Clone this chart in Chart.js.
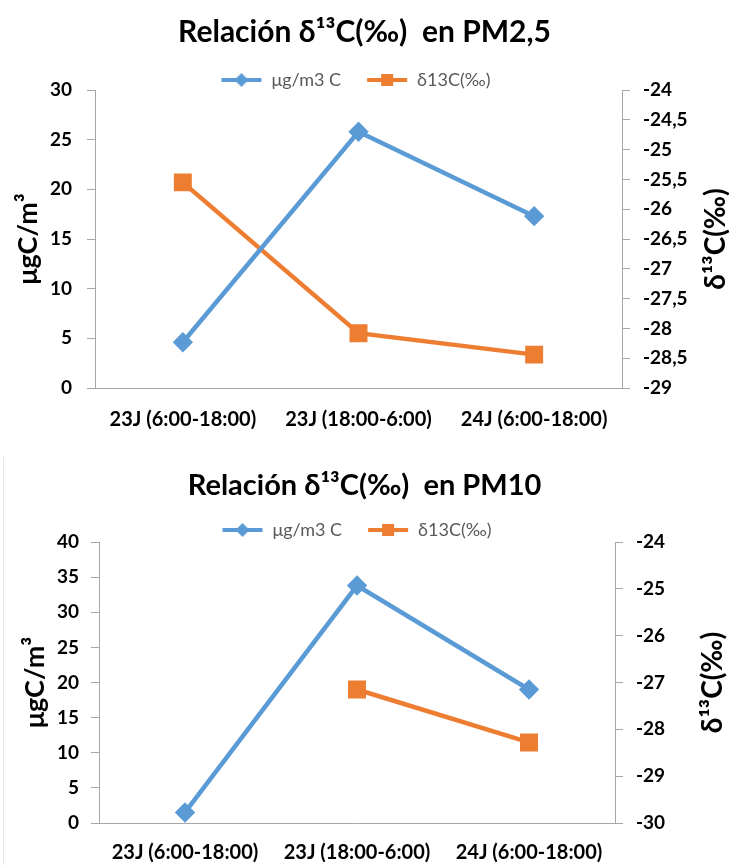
<!DOCTYPE html>
<html>
<head>
<meta charset="utf-8">
<script src="https://cdn.jsdelivr.net/npm/chart.js@4/dist/chart.umd.min.js"></script>
<style>
  html, body { margin: 0; padding: 0; background: #fff; }
  #wrap { position: relative; width: 729px; height: 865px; overflow: hidden; }
  #c1 { position: absolute; left: 0; top: 0; }
  #box2 { position: absolute; left: 3px; top: 457px; width: 726px; height: 408px; border-left: 1px solid #e6e6e6; }
  #c2 { position: absolute; left: -4px; top: -1px; }
</style>
</head>
<body>
<div id="wrap">
  <canvas id="c1" width="729" height="445"></canvas>
  <div id="box2"><canvas id="c2" width="729" height="409"></canvas></div>
</div>
<script>
// ---- data ----
const categories = ['23J (6:00-18:00)', '23J (18:00-6:00)', '24J (6:00-18:00)'];
const seriesNames = ['μg/m3 C', 'δ13C(‰)'];
const pm25Conc = [4.6, 25.8, 17.3];
const pm25Delta = [-25.55, -28.08, -28.44];
const pm10Conc = [1.5, 33.8, 19.0];
const pm10Delta = [null, -27.15, -28.28];
const pm25LeftTicks = [0, 5, 10, 15, 20, 25, 30];
const pm25RightTicks = [-29, -28.5, -28, -27.5, -27, -26.5, -26, -25.5, -25, -24.5, -24];
const pm10LeftTicks = [0, 5, 10, 15, 20, 25, 30, 35, 40];
const pm10RightTicks = [-30, -29, -28, -27, -26, -25, -24];
const titles = ['Relación δ¹³C(‰)  en PM2,5', 'Relación δ¹³C(‰)  en PM10'];
const leftTitle = 'μgC/m³';
const rightTitle = 'δ¹³C(‰)';

// ---- style ----
const FONT = "Lato, 'Open Sans', sans-serif";
const BLUE = '#5B9BD5';
const ORANGE = '#ED7D31';
const AXIS = '#a6a6a6';
Chart.defaults.font.family = FONT;
Chart.defaults.color = '#000';

function legendIcon(color, shape) {
  const c = document.createElement('canvas');
  c.width = 42; c.height = 14;
  const g = c.getContext('2d');
  g.strokeStyle = color; g.fillStyle = color; g.lineWidth = 4;
  g.beginPath(); g.moveTo(1, 7); g.lineTo(41, 7); g.stroke();
  if (shape === 'diamond') {
    g.beginPath(); g.moveTo(21, 0); g.lineTo(28, 7); g.lineTo(21, 14); g.lineTo(14, 7); g.closePath(); g.fill();
  } else {
    g.fillRect(15, 1, 12, 12);
  }
  return c;
}
const icons = [legendIcon(BLUE, 'diamond'), legendIcon(ORANGE, 'square')];

const legendShift = {
  id: 'legendShift',
  afterLayout(chart, args, opts) {
    const l = chart.legend;
    if (l) {
      l.top += opts.dy;
      l.bottom = l.top + 80;
      l.left += opts.dx; l.right += opts.dx;
    }
  }
};
const rightTitlePlugin = {
  id: 'rightTitle',
  afterDraw(chart, args, opts) {
    const ctx = chart.ctx, a = chart.chartArea;
    ctx.save();
    ctx.translate(opts.x, (a.top + a.bottom) / 2);
    ctx.rotate(-Math.PI / 2);
    ctx.textAlign = 'center';
    ctx.textBaseline = 'middle';
    ctx.font = 'bold ' + opts.size + 'px ' + FONT;
    ctx.fillStyle = '#000';
    ctx.fillText(opts.text, 0, 0);
    ctx.restore();
  }
};

function fmtComma(v) { return String(v).replace('.', ','); }

function makeChart(el, cfg) {
  return new Chart(document.getElementById(el), {
    type: 'line',
    data: {
      labels: categories,
      datasets: [
        { label: seriesNames[0], data: cfg.conc, yAxisID: 'y', borderColor: BLUE, backgroundColor: BLUE,
          borderWidth: 4.5, pointStyle: 'rectRot', pointRadius: 7, pointHoverRadius: 7, tension: 0 },
        { label: seriesNames[1], data: cfg.delta, yAxisID: 'y1', borderColor: ORANGE, backgroundColor: ORANGE,
          borderWidth: 4.5, pointStyle: 'rect', pointRadius: 9.5, pointHoverRadius: 9.5, tension: 0 }
      ]
    },
    plugins: [legendShift, rightTitlePlugin],
    options: {
      responsive: false,
      animation: false,
      layout: { padding: 0 },
      plugins: {
        tooltip: { enabled: false },
        title: { display: true, text: cfg.title, color: '#000',
          font: { size: cfg.titleSize, weight: 'bold', family: FONT },
          padding: { top: cfg.titleTop, bottom: cfg.titleBottom } },
        legend: {
          display: true,
          maxHeight: 30,
          labels: {
            color: '#595959', font: { size: 18, family: FONT }, padding: 25,
            usePointStyle: true, pointStyleWidth: 42, boxHeight: 18,
            generateLabels(chart) {
              const items = Chart.defaults.plugins.legend.labels.generateLabels(chart);
              items.forEach((it, i) => { it.pointStyle = icons[i]; });
              return items;
            }
          }
        },
        legendShift: { dy: cfg.legendDy, dx: cfg.legendDx },
        rightTitle: { x: cfg.rightTitleX, text: rightTitle, size: 28 }
      },
      scales: {
        x: {
          offset: true,
          grid: { display: false },
          border: { display: true, color: AXIS, width: 1 },
          ticks: { color: '#000', font: { size: 20, weight: 'bold' }, padding: cfg.xPad, maxRotation: 0 },
          afterFit(s) { s.height = cfg.xHeight; }
        },
        y: {
          position: 'left',
          min: cfg.leftTicks[0], max: cfg.leftTicks[cfg.leftTicks.length - 1],
          afterBuildTicks(s) { s.ticks = cfg.leftTicks.map(v => ({ value: v })); },
          grid: { drawOnChartArea: false, drawTicks: true, tickLength: 8, color: AXIS },
          border: { display: true, color: AXIS, width: 1 },
          ticks: { color: '#000', font: { size: 19, weight: 'bold' }, padding: cfg.leftPad },
          title: { display: true, text: leftTitle, color: '#000', font: { size: 27, weight: 'bold' },
                   padding: { top: cfg.leftTitlePad, bottom: 0 } },
          afterFit(s) { s.width = cfg.leftWidth; }
        },
        y1: {
          position: 'right',
          min: cfg.rightTicks[0], max: cfg.rightTicks[cfg.rightTicks.length - 1],
          afterBuildTicks(s) { s.ticks = cfg.rightTicks.map(v => ({ value: v })); },
          grid: { drawOnChartArea: false, drawTicks: true, tickLength: 8, color: AXIS },
          border: { display: true, color: AXIS, width: 1 },
          ticks: { color: '#000', font: { size: 19, weight: 'bold' }, padding: 13,
                   callback: (v) => fmtComma(v) },
          afterFit(s) { s.width = cfg.rightWidth; }
        }
      }
    }
  });
}

makeChart('c1', {
  title: titles[0], conc: pm25Conc, delta: pm25Delta,
  leftTicks: pm25LeftTicks, rightTicks: pm25RightTicks,
  titleSize: 30, titleTop: 14, titleBottom: 10, legendDy: -14, legendDx: -9,
  xHeight: 57, xPad: 12, leftWidth: 95, rightWidth: 107,
  leftPad: 15, leftTitlePad: 12, rightTitleX: 716
});
makeChart('c2', {
  title: titles[1], conc: pm10Conc, delta: pm10Delta,
  leftTicks: pm10LeftTicks, rightTicks: pm10RightTicks,
  titleSize: 29, titleTop: 12.6, titleBottom: 8.6, legendDy: -16, legendDx: -8,
  xHeight: 42, xPad: 10, leftWidth: 99, rightWidth: 114,
  leftPad: 12, leftTitlePad: 19, rightTitleX: 713
});
</script>
</body>
</html>
